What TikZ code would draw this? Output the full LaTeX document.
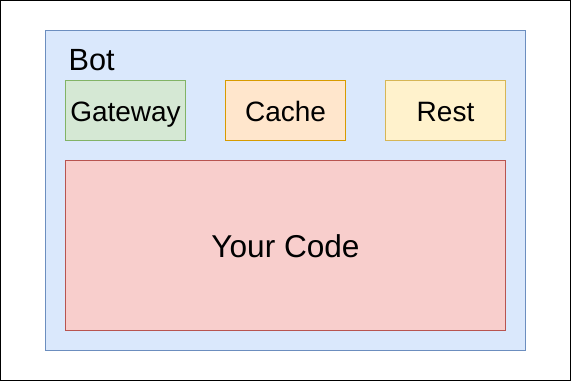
\documentclass[tikz,border=0pt]{standalone}
\usepackage{fontspec}
\setmainfont{Liberation Sans}
\definecolor{botfill}{HTML}{DAE8FC}\definecolor{botline}{HTML}{6C8EBF}
\definecolor{gwfill}{HTML}{D5E8D4}\definecolor{gwline}{HTML}{82B366}
\definecolor{cachefill}{HTML}{FFE6CC}\definecolor{cacheline}{HTML}{D79B00}
\definecolor{restfill}{HTML}{FFF2CC}\definecolor{restline}{HTML}{D6B656}
\definecolor{codefill}{HTML}{F8CECC}\definecolor{codeline}{HTML}{B85450}
\newcommand{\botpart}[5]{\node[part,fill=#3,draw=#4] (#1) at (#2,110.5){#5};}

\begin{document}
\begin{tikzpicture}[x=.75pt,y=-.75pt,font=\fontsize{21}{25}\selectfont,
  part/.style={line width=.75pt,inner sep=0pt,minimum width=90pt,minimum height=45pt,text height=16.5pt,text depth=0pt}]
\useasboundingbox (0,0) rectangle (571,381);
\draw[line width=.75pt] (.5,.5) rectangle (570.5,380.5);
\node[part,fill=botfill,draw=botline,minimum width=360pt,minimum height=240pt] (bot) at (285.5,190.5){};
\node[anchor=base west,font=\fontsize{23}{27}\selectfont] (botlabel) at (64,71){Bot};
\botpart{gateway}{125.5}{gwfill}{gwline}{Gateway}\botpart{cache}{285.5}{cachefill}{cacheline}{Cache}
\botpart{rest}{445.5}{restfill}{restline}{Rest}
\node[part,fill=codefill,draw=codeline,minimum width=330pt,minimum height=127.5pt,text height=17.7pt,font=\fontsize{23.7}{28}\selectfont] (code) at (285.5,245.5){Your Code};
\end{tikzpicture}
\end{document}
